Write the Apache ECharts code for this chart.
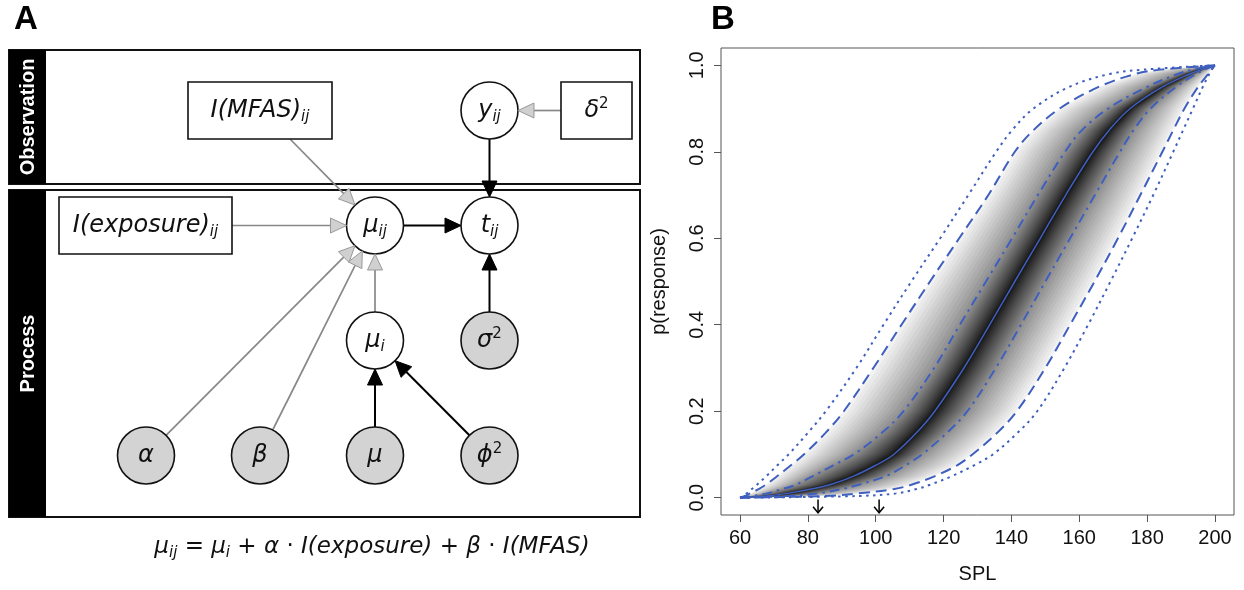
<!DOCTYPE html>
<html><head><meta charset="utf-8">
<script src="https://cdn.jsdelivr.net/npm/echarts@6/dist/echarts.min.js"></script>
<style>html,body{margin:0;padding:0;background:#fff}#c{width:1244px;height:590px}</style>
</head><body><div id="c"></div>
<script>
// ---------- Panel B data (SPL read at common response probability levels) ----------
const pLevels      = [0, 0.004, 0.01, 0.02, 0.03, 0.05, 0.075, 0.1, 0.15, 0.2, 0.3, 0.4, 0.5, 0.6, 0.7, 0.8, 0.85, 0.9, 0.95, 0.98, 0.99, 1];
const medianSPL    = [60, 68, 74, 81, 86.5, 93.5, 100, 105.3, 112, 117.4, 126, 133.6, 141, 148.5, 156, 164, 168.8, 175, 184.5, 192.5, 196, 200];
const innerLowSPL  = [60, 64, 68, 72.5, 76.5, 81.5, 87.5, 93.5, 101.8, 108.2, 117.2, 124.8, 132.5, 140.2, 147.8, 155.8, 160.8, 168.5, 180, 189, 193.5, 200];
const innerHighSPL = [60, 74, 83, 90, 95, 103, 108.8, 113.6, 121, 127, 135.4, 142.8, 150, 157.3, 164.6, 172, 176, 181, 188.5, 194.5, 197, 200];
const midLowSPL    = [60, 61.5, 63, 65.5, 67.6, 71, 75, 78.8, 85.2, 90.6, 99.3, 107.6, 116, 124.6, 133.2, 141, 146.5, 154.2, 165.7, 176.5, 184, 200];
const midHighSPL   = [60, 85, 95, 105.5, 110.5, 117.5, 124, 128.5, 135.8, 141.6, 150, 157.3, 164.5, 171.4, 178, 184.5, 187.7, 191, 195, 198, 199, 200];
const outLowSPL    = [60, 61, 62, 63.5, 65, 67.8, 71, 74.3, 80, 85.3, 94.3, 102.3, 110.5, 119, 127.3, 135.5, 140.2, 146.5, 157, 169, 179, 200];
const outHighSPL   = [60, 95, 106, 112, 116, 122.5, 129, 134.5, 141.8, 147.6, 155.6, 162.6, 169.2, 175.6, 181.8, 187.7, 190.6, 193.5, 196.4, 198.3, 199, 200];
const arrowSPL     = [83, 101];
const xTicks = [60, 80, 100, 120, 140, 160, 180, 200];
const yTicks = [0, 0.2, 0.4, 0.6, 0.8, 1.0];

// ---------- Panel A labels ----------
const obsLabel = 'Observation';
const procLabel = 'Process';
const equationTokens = [['m','μ'],['s','ij'],['n',' = '],['m','μ'],['s','i'],['n',' + '],['m','α'],['n',' · '],['m','I(exposure)'],['n',' + '],['m','β'],['n',' · '],['m','I(MFAS)']];

const BLUE = '#3f5fbf';
const chart = echarts.init(document.getElementById('c'), null, {renderer: 'canvas'});

function pairs(arr) { return pLevels.map((p, i) => [arr[i], p]); }

function blendX(j, t, inner, outer) {
  if (t <= 0.5) return medianSPL[j] + (inner[j] - medianSPL[j]) * (t / 0.5);
  return inner[j] + (outer[j] - inner[j]) * ((t - 0.5) / 0.5);
}
function shadeItem(params, api) {
  const N = 26, children = [];
  for (let k = N; k >= 1; k--) {
    const t = k / N;
    const left = [], right = [];
    for (let j = 0; j < pLevels.length; j++) {
      left.push(api.coord([blendX(j, t, innerLowSPL, midLowSPL), pLevels[j]]));
      right.push(api.coord([blendX(j, t, innerHighSPL, midHighSPL), pLevels[j]]));
    }
    const g = Math.round(10 + 232 * Math.pow(t, 0.85));
    children.push({type: 'polygon', shape: {points: left.concat(right.reverse()), smooth: 0},
      style: {fill: 'rgb(' + g + ',' + g + ',' + g + ')'}, silent: true});
  }
  return {type: 'group', children};
}
function arrowItem(params, api) {
  const x = api.value(0);
  const a = api.coord([x, -0.004]), b = api.coord([x, -0.035]);
  return {type: 'group', children: [
    {type: 'line', shape: {x1: a[0], y1: a[1], x2: b[0], y2: b[1]}, style: {stroke: '#000', lineWidth: 1.5}},
    {type: 'polyline', shape: {points: [[b[0] - 5, b[1] - 6], [b[0], b[1]], [b[0] + 5, b[1] - 6]]}, style: {stroke: '#000', lineWidth: 1.5, fill: null}}
  ]};
}

function lineSeries(arr, type, width) {
  return {type: 'line', data: pairs(arr), showSymbol: false, symbol: 'none', smooth: 0.35,
    lineStyle: {color: BLUE, width: width, type: type}, z: 3, silent: true, animation: false};
}

// ---------- Panel A graphics ----------
const G = [];
const F = 'DejaVu Sans';
function boxPanel(y, h, label) {
  G.push({type: 'rect', shape: {x: 9, y: y, width: 631, height: h}, style: {fill: '#fff', stroke: '#111', lineWidth: 2}, z: 1});
  G.push({type: 'rect', shape: {x: 9, y: y, width: 37, height: h}, style: {fill: '#000'}, z: 2});
  G.push({type: 'text', x: 28, y: y + h / 2, rotation: Math.PI / 2,
    style: {text: label, x: 0, y: 0, align: 'center', verticalAlign: 'middle', fill: '#fff', fontSize: 20, fontWeight: 'bold', fontFamily: 'Liberation Sans'}, z: 3});
}
function rectNode(cx, cy, w, h) {
  G.push({type: 'rect', shape: {x: cx - w / 2, y: cy - h / 2, width: w, height: h}, style: {fill: '#fff', stroke: '#111', lineWidth: 1.6}, z: 5});
}
function circleNode(cx, cy, fill) {
  G.push({type: 'circle', shape: {cx: cx, cy: cy, r: 28.5}, style: {fill: fill, stroke: '#111', lineWidth: 1.6}, z: 5});
}
const RICH = {
  m: {fontSize: 24, fontFamily: F, fontStyle: 'italic', lineHeight: 28, verticalAlign: 'middle', fill: '#111'},
  s: {fontSize: 15, fontFamily: F, fontStyle: 'italic', lineHeight: 12, verticalAlign: 'bottom', fill: '#111'},
  u: {fontSize: 15, fontFamily: F, lineHeight: 12, verticalAlign: 'top', fill: '#111'}
};
function label(cx, cy, parts) {
  G.push({type: 'text', style: {text: parts.map(p => '{' + p[0] + '|' + p[1] + '}').join(''), x: cx, y: cy,
    align: 'center', verticalAlign: 'middle', rich: RICH, fontSize: 24, fontFamily: F}, z: 7});
}
function arrow(x1, y1, x2, y2, gray) {
  const dx = x2 - x1, dy = y2 - y1, L = Math.hypot(dx, dy), ux = dx / L, uy = dy / L;
  const hl = 16, hw = 7.5, bx = x2 - ux * hl, by = y2 - uy * hl, px = -uy, py = ux;
  G.push({type: 'line', shape: {x1: x1, y1: y1, x2: bx, y2: by}, style: {stroke: gray ? '#888' : '#000', lineWidth: gray ? 1.7 : 2}, z: 4});
  G.push({type: 'polygon', shape: {points: [[x2, y2], [bx + px * hw, by + py * hw], [bx - px * hw, by - py * hw]]},
    style: {fill: gray ? '#d0d0d0' : '#000', stroke: gray ? '#999' : '#000', lineWidth: 1}, z: 6});
}

boxPanel(50, 134, obsLabel);
boxPanel(190, 327, procLabel);

rectNode(260, 110.5, 144, 57);  label(260, 110.5, [['m', 'I(MFAS)'], ['s', 'ij']]);
rectNode(596.5, 110.5, 71, 57); label(596.5, 110.5, [['m', 'δ'], ['u', '2']]);
circleNode(489.5, 110.5, '#fff'); label(489.5, 110.5, [['m', 'y'], ['s', 'ij']]);
rectNode(145.5, 225.5, 173, 57); label(145.5, 225.5, [['m', 'I(exposure)'], ['s', 'ij']]);
circleNode(375, 225.5, '#fff'); label(375, 225.5, [['m', 'μ'], ['s', 'ij']]);
circleNode(489.5, 225.5, '#fff'); label(489.5, 225.5, [['m', 't'], ['s', 'ij']]);
circleNode(375, 340.5, '#fff'); label(375, 340.5, [['m', 'μ'], ['s', 'i']]);
circleNode(489.5, 340.5, '#d3d3d3'); label(489.5, 340.5, [['m', 'σ'], ['u', '2']]);
circleNode(146, 455.5, '#d3d3d3'); label(146, 455.5, [['m', 'α']]);
circleNode(260, 455.5, '#d3d3d3'); label(260, 455.5, [['m', 'β']]);
circleNode(375, 455.5, '#d3d3d3'); label(375, 455.5, [['m', 'μ']]);
circleNode(489.5, 455.5, '#d3d3d3'); label(489.5, 455.5, [['m', 'ϕ'], ['u', '2']]);

arrow(290, 139, 355, 205, true);
arrow(232, 225.5, 346.5, 225.5, true);
arrow(166, 435.3, 355, 245.7, true);
arrow(272.7, 430, 362.3, 251, true);
arrow(375, 312, 375, 254, true);
arrow(561, 110.5, 518, 110.5, true);
arrow(489.5, 139, 489.5, 197, false);
arrow(403.5, 225.5, 461, 225.5, false);
arrow(489.5, 312, 489.5, 254, false);
arrow(375, 427, 375, 369, false);
arrow(469.4, 435.3, 395.1, 360.7, false);

G.push({type: 'text', style: {text: equationTokens.map(p => '{' + p[0] + '|' + p[1] + '}').join(''),
  x: 372, y: 547, align: 'center', verticalAlign: 'middle', fontSize: 23, fontFamily: F,
  rich: {
    m: {fontSize: 23, fontFamily: F, fontStyle: 'italic', lineHeight: 27, verticalAlign: 'middle', fill: '#111'},
    n: {fontSize: 23, fontFamily: F, lineHeight: 27, verticalAlign: 'middle', fill: '#111'},
    s: {fontSize: 15, fontFamily: F, fontStyle: 'italic', lineHeight: 12, verticalAlign: 'bottom', fill: '#111'}
  }}, z: 7});

G.push({type: 'text', style: {text: 'A', x: 14, y: 3, fontSize: 33, fontWeight: 'bold', fontFamily: 'Liberation Sans', fill: '#000'}, z: 7});
G.push({type: 'text', style: {text: 'B', x: 711, y: 3, fontSize: 33, fontWeight: 'bold', fontFamily: 'Liberation Sans', fill: '#000'}, z: 7});

const axisFont = {fontSize: 20, color: '#111', fontFamily: 'Liberation Sans'};
chart.setOption({
  animation: false,
  graphic: {elements: G},
  grid: {left: 721, right: 10, top: 48, bottom: 75, show: true, borderColor: '#555', borderWidth: 1, backgroundColor: 'transparent', containLabel: false},
  xAxis: {type: 'value', min: 54.4, max: 205.6, splitLine: {show: false}, axisLine: {show: false, onZero: false},
    axisTick: {show: true, customValues: xTicks, length: 7, lineStyle: {color: '#555'}},
    axisLabel: Object.assign({customValues: xTicks, margin: 13}, axisFont),
    name: 'SPL', nameLocation: 'middle', nameGap: 49, nameTextStyle: axisFont},
  yAxis: {type: 'value', min: -0.04, max: 1.04, splitLine: {show: false}, axisLine: {show: false, onZero: false},
    axisTick: {show: true, customValues: yTicks, length: 7, lineStyle: {color: '#555'}},
    axisLabel: Object.assign({customValues: yTicks, margin: 14, rotate: 90, formatter: v => Number(v).toFixed(1)}, axisFont),
    name: 'p(response)', nameLocation: 'middle', nameGap: 52, nameTextStyle: axisFont},
  series: [
    {type: 'custom', renderItem: shadeItem, data: [[100, 0.5]], z: 1, silent: true},
    lineSeries(outLowSPL, [2.5, 4.5], 2),
    lineSeries(outHighSPL, [2.5, 4.5], 2),
    lineSeries(midLowSPL, [11, 6], 2),
    lineSeries(midHighSPL, [11, 6], 2),
    lineSeries(innerLowSPL, [10, 5, 2.5, 5], 2),
    lineSeries(innerHighSPL, [10, 5, 2.5, 5], 2),
    lineSeries(medianSPL, 'solid', 1.5),
    {type: 'custom', renderItem: arrowItem, data: arrowSPL.map(v => [v, 0]), z: 4, silent: true}
  ]
});
</script></body></html>
